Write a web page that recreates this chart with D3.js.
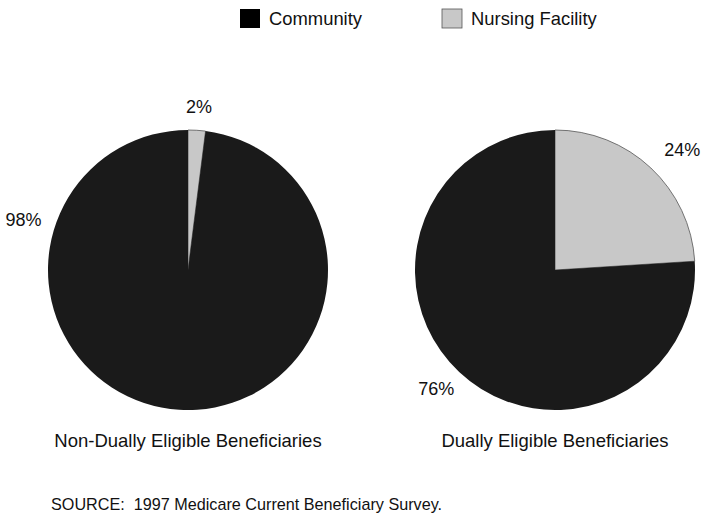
<!DOCTYPE html>
<html><head><meta charset="utf-8">
<script src="https://cdn.jsdelivr.net/npm/d3@7"></script>
<style>body{margin:0;background:#fff}svg{display:block}text{font-family:"Liberation Sans",Arial,sans-serif;fill:#111;white-space:pre}</style>
</head><body>
<svg id="c" width="713" height="519"></svg>
<script>
const categories = ["Nursing Facility", "Community"];
const groups = ["Non-Dually Eligible Beneficiaries", "Dually Eligible Beneficiaries"];
const nonDualValues = [2, 98];
const dualValues = [24, 76];
const colors = ["#c8c8c8", "#1a1a1a"];
const source = "SOURCE:  1997 Medicare Current Beneficiary Survey.";

const svg = d3.select("#c");
const r = 140;
const centers = [[188, 270], [555, 270]];
const pie = d3.pie().sort(null).value(d => d);
const arc = d3.arc().innerRadius(0).outerRadius(r);
const color = d3.scaleOrdinal().domain(categories).range(colors);

// label placement (angle in radians from 12 o'clock, radius)
const labelPos = [
  [{ang: 0.067, rr: 164}, {ang: -1.276, rr: 172}],
  [{ang: 0.814, rr: 175}, {ang: -2.356, rr: 168}]
];

[nonDualValues, dualValues].forEach((vals, gi) => {
  const g = svg.append("g").attr("transform", `translate(${centers[gi][0]},${centers[gi][1]})`);
  const arcs = pie(vals);
  g.selectAll("path").data(arcs).enter().append("path")
    .attr("d", arc)
    .attr("fill", (d, i) => color(categories[i]))
    .attr("stroke", (d, i) => i === 0 ? "#555" : "none")
    .attr("stroke-width", 0.8);
  arcs.forEach((d, i) => {
    const lo = labelPos[gi][i];
    const x = Math.sin(lo.ang) * lo.rr;
    const y = -Math.cos(lo.ang) * lo.rr;
    g.append("text").attr("x", x).attr("y", y).attr("dy", "0.35em")
      .attr("text-anchor", "middle").attr("font-size", 18).text(vals[i] + "%");
  });
  svg.append("text").attr("x", centers[gi][0]).attr("y", 447)
    .attr("text-anchor", "middle").attr("font-size", 18.5).text(groups[gi]);
});

// legend
const legend = [{x: 240, cat: "Community"}, {x: 442, cat: "Nursing Facility"}];
legend.forEach(l => {
  svg.append("rect").attr("x", l.x).attr("y", 9).attr("width", 20).attr("height", 19)
    .attr("fill", l.cat === "Community" ? "#000" : color(l.cat))
    .attr("stroke", l.cat === "Community" ? "none" : "#555").attr("stroke-width", 0.8);
  svg.append("text").attr("x", l.x + 29).attr("y", 25).attr("font-size", 18.4).text(l.cat);
});

svg.append("text").attr("x", 51).attr("y", 510).attr("font-size", 16.2).text(source);
</script>
</body></html>
